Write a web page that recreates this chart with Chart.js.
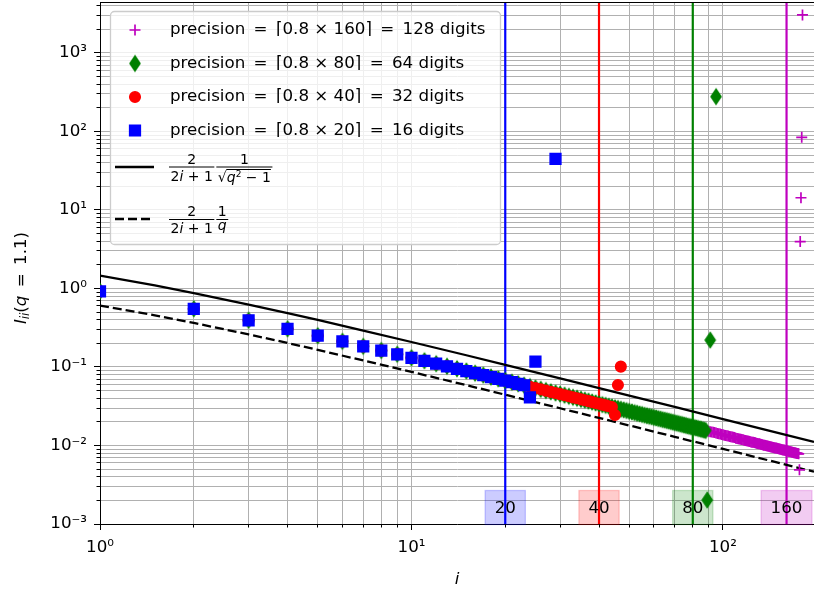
<!DOCTYPE html>
<html lang="en">
<head>
<meta charset="UTF-8" />
<title>I_ii(q = 1.1)</title>
<script src="https://cdn.jsdelivr.net/npm/chart.js"></script>
<style>
  body { margin: 0; background: #fff; }
  #wrap { position: relative; width: 814px; height: 594px; }
</style>
</head>
<body>
<div id="wrap"><canvas id="chart" width="814" height="594"></canvas></div>
<script>
// values read along the common trace of the markers, i = 1 .. 175
const traceValues = [
  0.917, 0.55, 0.393, 0.306, 0.25, 0.212, 0.183, 0.162, 0.145, 0.131,
  0.120, 0.110, 0.102, 0.0948, 0.0887, 0.0833, 0.0786, 0.0743, 0.0705, 0.0671,
  0.0640, 0.0611, 0.0585, 0.0561, 0.0539, 0.0519, 0.0500, 0.0482, 0.0466, 0.0451,
  0.0437, 0.0423, 0.0410, 0.0399, 0.0387, 0.0377, 0.0367, 0.0357, 0.0348, 0.0340,
  0.0331, 0.0324, 0.0316, 0.0309, 0.0302, 0.0296, 0.0289, 0.0284, 0.0278, 0.0272,
  0.0267, 0.0262, 0.0257, 0.0252, 0.0248, 0.0243, 0.0239, 0.0235, 0.0231, 0.0227,
  0.0224, 0.0220, 0.0217, 0.0213, 0.0210, 0.0207, 0.0204, 0.0201, 0.0198, 0.0195,
  0.0192, 0.0190, 0.0187, 0.0185, 0.0182, 0.0180, 0.0177, 0.0175, 0.0173, 0.0171,
  0.0169, 0.0167, 0.0165, 0.0163, 0.0161, 0.0159, 0.0157, 0.0155, 0.0154, 0.0152,
  0.0150, 0.0149, 0.0147, 0.0146, 0.0144, 0.0142, 0.0141, 0.0140, 0.0138, 0.0137,
  0.0135, 0.0134, 0.0133, 0.0132, 0.0130, 0.0129, 0.0128, 0.0127, 0.0126, 0.0124,
  0.0123, 0.0122, 0.0121, 0.0120, 0.0119, 0.0118, 0.0117, 0.0116, 0.0115, 0.0114,
  0.0113, 0.0112, 0.0111, 0.0110, 0.0110, 0.0109, 0.0108, 0.0107, 0.0106, 0.0105,
  0.0105, 0.0104, 0.0103, 0.0102, 0.0101, 0.0101, 0.0100, 0.00993, 0.00986, 0.00979,
  0.00972, 0.00965, 0.00958, 0.00952, 0.00945, 0.00939, 0.00932, 0.00926, 0.00920, 0.00914,
  0.00908, 0.00902, 0.00896, 0.00890, 0.00884, 0.00879, 0.00873, 0.00868, 0.00862, 0.00857,
  0.00851, 0.00846, 0.00841, 0.00836, 0.00831, 0.00826, 0.00821, 0.00816, 0.00811, 0.00806,
  0.00802, 0.00797, 0.00793, 0.00788, 0.00783
];

// how far each precision follows the trace, then its stray points
const blueCount = 23;
const blueTailI = [24, 25, 29];
const blueTailV = [0.041, 0.117, 44.6];

const redCount = 44;
const redTailI = [45, 46, 47];
const redTailV = [0.0245, 0.059, 0.101];

const greenCount = 88;
const greenTailI = [89, 91, 95];
const greenTailV = [0.00202, 0.22, 277];

const magentaCount = 175;
const magentaTailI = [176, 177, 178, 179, 180];
const magentaTailV = [0.0049, 3.95, 14.3, 84, 3050];

// reference curves
const curveI = [1, 1.5, 2, 3, 4, 5, 7, 10, 15, 20, 30, 50, 70, 100, 150, 196];
const solidV = [1.455, 1.091, 0.873, 0.623, 0.485, 0.397, 0.291, 0.208, 0.141, 0.106, 0.0715, 0.0432, 0.0310, 0.0217, 0.0145, 0.0111];
const dashedV = [0.606, 0.455, 0.364, 0.260, 0.202, 0.165, 0.121, 0.0866, 0.0587, 0.0443, 0.0298, 0.0180, 0.0129, 0.00905, 0.00604, 0.00463];

const cutoffs = [20, 40, 80, 160];
const cutoffColors = ['#0000ff', '#ff0000', '#008000', '#bf00bf'];
const cutoffFills = ['rgba(0,0,255,0.2)', 'rgba(255,0,0,0.2)', 'rgba(0,128,0,0.2)', 'rgba(191,0,191,0.2)'];

const legendLabels = [
  'precision\u2002=\u2002⌈0.8 × 160⌉\u2002=\u2002128 digits',
  'precision\u2002=\u2002⌈0.8 × 80⌉\u2002=\u200264 digits',
  'precision\u2002=\u2002⌈0.8 × 40⌉\u2002=\u200232 digits',
  'precision\u2002=\u2002⌈0.8 × 20⌉\u2002=\u200216 digits'
];

const FONT = '"DejaVu Sans", sans-serif';
const FS = 16.7;

function points(count, tailI, tailV) {
  const pts = traceValues.slice(0, count).map((v, k) => ({x: k + 1, y: v}));
  tailI.forEach((i, k) => pts.push({x: i, y: tailV[k]}));
  return pts;
}

function thinDiamond(color) {
  const c = document.createElement('canvas');
  c.width = 14; c.height = 20;
  const g = c.getContext('2d');
  g.fillStyle = color; g.strokeStyle = color; g.lineWidth = 1.5;
  g.beginPath();
  g.moveTo(7, 2.5); g.lineTo(12, 10); g.lineTo(7, 17.5); g.lineTo(2, 10);
  g.closePath(); g.fill(); g.stroke();
  return c;
}
const diamondImg = thinDiamond('#008000');

function isPow10(v) {
  const l = Math.log10(v);
  return Math.abs(l - Math.round(l)) < 1e-9;
}
const sup = {'0':'⁰','1':'¹','2':'²','3':'³','4':'⁴','5':'⁵','6':'⁶','7':'⁷','8':'⁸','9':'⁹','-':'⁻'};
function powLabel(v) {
  const e = Math.round(Math.log10(v));
  return '10' + String(e).split('').map(c => sup[c]).join('');
}
function logTicks(lo, hi) {
  const out = [];
  for (let e = Math.floor(Math.log10(lo)); e <= Math.ceil(Math.log10(hi)); e++) {
    for (let k = 1; k <= 9; k++) {
      const v = Number((k * Math.pow(10, e)).toPrecision(6));
      if (v >= lo * 0.999999 && v <= hi * 1.000001) out.push({value: v});
    }
  }
  return out;
}

const markerSets = [
  {label: legendLabels[3], data: points(blueCount, blueTailI, blueTailV), color: '#0000ff', style: 'rect', r: 7.6, bw: 1.5},
  {label: legendLabels[2], data: points(redCount, redTailI, redTailV), color: '#ff0000', style: 'circle', r: 5.3, bw: 1.5},
  {label: legendLabels[1], data: points(greenCount, greenTailI, greenTailV), color: '#008000', style: diamondImg, r: 6, bw: 0},
  {label: legendLabels[0], data: points(magentaCount, magentaTailI, magentaTailV), color: '#bf00bf', style: 'cross', r: 5.5, bw: 1.7}
];

const datasets = markerSets.map(s => ({
  label: s.label,
  data: s.data,
  showLine: false,
  pointStyle: s.style,
  pointRadius: s.r,
  pointBorderWidth: s.bw,
  backgroundColor: s.color,
  borderColor: s.color
}));
datasets.push({
  label: 'solid',
  data: curveI.map((x, k) => ({x, y: solidV[k]})),
  showLine: true, pointRadius: 0, borderColor: '#000', borderWidth: 2.3
});
datasets.push({
  label: 'dashed',
  data: curveI.map((x, k) => ({x, y: dashedV[k]})),
  showLine: true, pointRadius: 0, borderColor: '#000', borderWidth: 2.3, borderDash: [9, 4]
});

function fnt(style, size) { return `${style} ${size}px ${FONT}`; }
function partsWidth(ctx, parts) {
  let w = 0;
  parts.forEach(p => { ctx.font = fnt(p[1], p[3]); w += ctx.measureText(p[0]).width; });
  return w;
}
function drawParts(ctx, parts, x, base) {
  parts.forEach(p => {
    ctx.font = fnt(p[1], p[3]);
    ctx.fillText(p[0], x, base + p[2]);
    x += ctx.measureText(p[0]).width;
  });
  return x;
}
// draws a stacked fraction starting at left, returns its right edge
function drawFrac(ctx, left, barY, num, den, numBase, denBase, radical) {
  const nw = partsWidth(ctx, num), dw = partsWidth(ctx, den);
  const w = Math.max(nw, dw) + 3;
  ctx.textBaseline = 'alphabetic';
  ctx.textAlign = 'left';
  drawParts(ctx, num, left + (w - nw) / 2, numBase);
  const dx = left + (w - dw) / 2;
  drawParts(ctx, den, dx, denBase);
  ctx.lineWidth = 1;
  ctx.beginPath(); ctx.moveTo(left, barY); ctx.lineTo(left + w, barY); ctx.stroke();
  if (radical) {
    ctx.font = fnt('normal', den[0][3]);
    const rw = ctx.measureText(den[0][0]).width;
    ctx.beginPath(); ctx.moveTo(dx + rw - 0.5, barY + 2.5); ctx.lineTo(dx + dw, barY + 2.5); ctx.stroke();
  }
  return left + w;
}

const overlay = {
  id: 'overlay',
  beforeDatasetsDraw(chart) {
    const {ctx, chartArea: a, scales: {x}} = chart;
    ctx.save();
    ctx.lineWidth = 2.2;
    cutoffs.forEach((c, k) => {
      const px = x.getPixelForValue(c);
      ctx.strokeStyle = cutoffColors[k];
      ctx.beginPath(); ctx.moveTo(px, a.top); ctx.lineTo(px, a.bottom); ctx.stroke();
    });
    ctx.restore();
  },
  afterDatasetsDraw(chart) {
    const {ctx, chartArea: a, scales: {x}} = chart;
    ctx.save();
    ctx.font = fnt('normal', FS);
    ctx.textAlign = 'center';
    ctx.textBaseline = 'middle';
    const cy = a.bottom - 16.5;
    cutoffs.forEach((c, k) => {
      const px = x.getPixelForValue(c);
      const t = String(c);
      const w = ctx.measureText(t).width + 19;
      ctx.fillStyle = cutoffFills[k];
      ctx.strokeStyle = cutoffFills[k];
      ctx.lineWidth = 1.3;
      ctx.fillRect(px - w / 2, cy - 17, w, 34);
      ctx.strokeRect(px - w / 2, cy - 17, w, 34);
      ctx.fillStyle = '#000';
      ctx.fillText(t, px, cy + 1);
    });
    ctx.restore();
  },
  afterDraw(chart) {
    const {ctx, chartArea: a, scales: {x, y}} = chart;
    ctx.save();
    // tick marks and top spine
    ctx.strokeStyle = '#000';
    ctx.lineWidth = 1;
    ctx.beginPath();
    x.ticks.forEach(t => {
      const px = Math.round(x.getPixelForValue(t.value) - 0.5) + 0.5;
      ctx.moveTo(px, a.bottom); ctx.lineTo(px, a.bottom + (isPow10(t.value) ? 6 : 3.5));
    });
    y.ticks.forEach(t => {
      const py = Math.round(y.getPixelForValue(t.value) - 0.5) + 0.5;
      ctx.moveTo(a.left, py); ctx.lineTo(a.left - (isPow10(t.value) ? 6 : 3.5), py);
    });
    ctx.moveTo(a.left, a.top + 0.5); ctx.lineTo(a.right, a.top + 0.5);
    ctx.stroke();

    // legend frame
    const L = {x: 110.5, y: 11.5, w: 390, h: 233};
    ctx.beginPath();
    ctx.roundRect(L.x, L.y, L.w, L.h, 4);
    ctx.fillStyle = 'rgba(255,255,255,0.8)';
    ctx.fill();
    ctx.strokeStyle = '#cccccc';
    ctx.lineWidth = 1.3;
    ctx.stroke();

    // legend marker rows
    const rows = [30, 63.5, 97, 130.5];
    const order = [3, 2, 1, 0];
    rows.forEach((ry, k) => {
      const s = markerSets[order[k]];
      ctx.fillStyle = s.color;
      ctx.strokeStyle = s.color;
      ctx.lineWidth = s.bw;
      Chart.helpers.drawPoint(ctx, {pointStyle: s.style, radius: s.r, rotation: 0, borderWidth: s.bw}, 135, ry);
      ctx.fillStyle = '#000';
      ctx.font = fnt('normal', FS);
      ctx.textAlign = 'left';
      ctx.textBaseline = 'middle';
      ctx.fillText(s.label, 170, ry);
    });

    // legend line rows with formulas
    ctx.strokeStyle = '#000';
    ctx.fillStyle = '#000';
    ctx.lineWidth = 2.3;
    ctx.beginPath(); ctx.moveTo(115, 167); ctx.lineTo(154, 167); ctx.stroke();
    ctx.setLineDash([9, 4]);
    ctx.beginPath(); ctx.moveTo(115, 219); ctx.lineTo(154, 219); ctx.stroke();
    ctx.setLineDash([]);

    const fs = 14;
    const two = [['2', 'normal', 0, fs]];
    const one = [['1', 'normal', 0, fs]];
    const den1 = [['2', 'normal', 0, fs], ['i', 'italic', 0, fs], [' + 1', 'normal', 0, fs]];
    const denSqrt = [['√', 'normal', 0, fs], ['q', 'italic', 0, fs], ['2', 'normal', -5, 9], [' − 1', 'normal', 0, fs]];
    const denQ = [['q', 'italic', 0, fs]];
    let r = drawFrac(ctx, 169, 167, two, den1, 163.5, 181, false);
    drawFrac(ctx, r + 2, 167, one, denSqrt, 163.5, 182, true);
    r = drawFrac(ctx, 169, 219.5, two, den1, 215.5, 233, false);
    drawFrac(ctx, r + 2, 219.5, one, denQ, 215.5, 230, false);

    // y axis title: I_ii(q = 1.1)
    const yt = [['I', 'italic', 0, FS], ['ii', 'italic', 4, 11.7], ['(', 'normal', 0, FS], ['q', 'italic', 0, FS], ['\u2002=\u20021.1)', 'normal', 0, FS]];
    ctx.translate(22, 278);
    ctx.rotate(-Math.PI / 2);
    ctx.textBaseline = 'middle';
    ctx.textAlign = 'left';
    drawParts(ctx, yt, -partsWidth(ctx, yt) / 2, 0);
    ctx.restore();
  }
};

const axisCommon = {
  type: 'logarithmic',
  afterBuildTicks: s => { s.ticks = logTicks(s.min, s.max); },
  grid: { color: '#b0b0b0', lineWidth: 1, drawTicks: false },
  border: { color: '#000', width: 1 }
};

new Chart(document.getElementById('chart'), {
  type: 'scatter',
  data: { datasets },
  plugins: [overlay],
  options: {
    responsive: false,
    devicePixelRatio: 1,
    animation: false,
    layout: { autoPadding: false, padding: { top: 2, right: 0, left: 0, bottom: 0 } },
    plugins: { legend: { display: false }, tooltip: { enabled: false } },
    scales: {
      x: Object.assign({}, axisCommon, {
        min: 1, max: 196,
        afterFit: s => { s.height = 70; s.paddingLeft = 0; s.paddingRight = 0; },
        ticks: {
          autoSkip: false, maxRotation: 0, padding: 14, color: '#000',
          font: { family: FONT, size: FS },
          callback: v => isPow10(v) ? powLabel(v) : ''
        },
        title: { display: true, text: 'i', color: '#000', font: { family: FONT, size: FS, style: 'italic' }, padding: { top: 0, bottom: 4 } }
      }),
      y: Object.assign({}, axisCommon, {
        min: 0.001, max: 4450,
        afterFit: s => { s.width = 100; s.paddingTop = 0; s.paddingBottom = 0; },
        ticks: {
          autoSkip: false, padding: 13, color: '#000',
          font: { family: FONT, size: FS },
          callback: v => isPow10(v) ? powLabel(v) : ''
        }
      })
    }
  }
});
</script>
</body>
</html>
